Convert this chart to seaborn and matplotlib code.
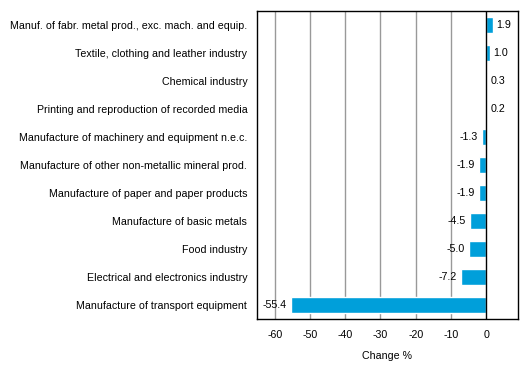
import matplotlib
matplotlib.use("Agg")
import pandas as pd
import seaborn as sns
import matplotlib.pyplot as plt

# data, top to bottom
industries = [
    "Manuf. of fabr. metal prod., exc. mach. and equip.",
    "Textile, clothing and leather industry",
    "Chemical industry",
    "Printing and reproduction of recorded media",
    "Manufacture of machinery and equipment n.e.c.",
    "Manufacture of other non-metallic mineral prod.",
    "Manufacture of paper and paper products",
    "Manufacture of basic metals",
    "Food industry",
    "Electrical and electronics industry",
    "Manufacture of transport equipment",
]
change = [1.9, 1.0, 0.3, 0.2, -1.3, -1.9, -1.9, -4.5, -5.0, -7.2, -55.4]
xticks = [-60, -50, -40, -30, -20, -10, 0]

df = pd.DataFrame({"industry": industries, "change": change})

sns.set_style("white")
plt.rcParams["font.family"] = ["Liberation Sans", "DejaVu Sans"]
plt.rcParams["text.color"] = "black"
plt.rcParams["xtick.color"] = "black"
plt.rcParams["ytick.color"] = "black"
plt.rcParams["axes.labelcolor"] = "black"
fs = 7.65

fig = plt.figure(figsize=(5.29, 3.78), dpi=100)
ax = fig.add_axes([0.486, 0.156, 0.493, 0.815])

for x in xticks[:-1]:
    ax.axvline(x, color="#999999", lw=1, zorder=0)

sns.barplot(data=df, x="change", y="industry", color="#009fda",
            saturation=1, width=0.56, ax=ax, zorder=2)

# zero line on top of bars
ax.axvline(0, color="black", lw=1, zorder=3)

for i, v in enumerate(change):
    if v >= 0:
        ax.text(v + 1.0, i, f"{v:.1f}", va="center", ha="left", fontsize=fs)
    else:
        ax.text(v - 1.2, i, f"{v:.1f}", va="center", ha="right", fontsize=fs)

ax.set_xlim(-65, 9)
ax.set_xticks(xticks)
ax.set_xticklabels([str(t) for t in xticks])
ax.set_xlabel("Change %", fontsize=fs, labelpad=8)
ax.set_ylabel("")
ax.tick_params(axis="x", direction="out", length=4, width=1, color="black", labelsize=fs, pad=4)
ax.tick_params(axis="y", length=0, labelsize=fs, pad=7)
for s in ax.spines.values():
    s.set_color("black")
    s.set_linewidth(1)

fig.savefig("out.png", dpi=100)
